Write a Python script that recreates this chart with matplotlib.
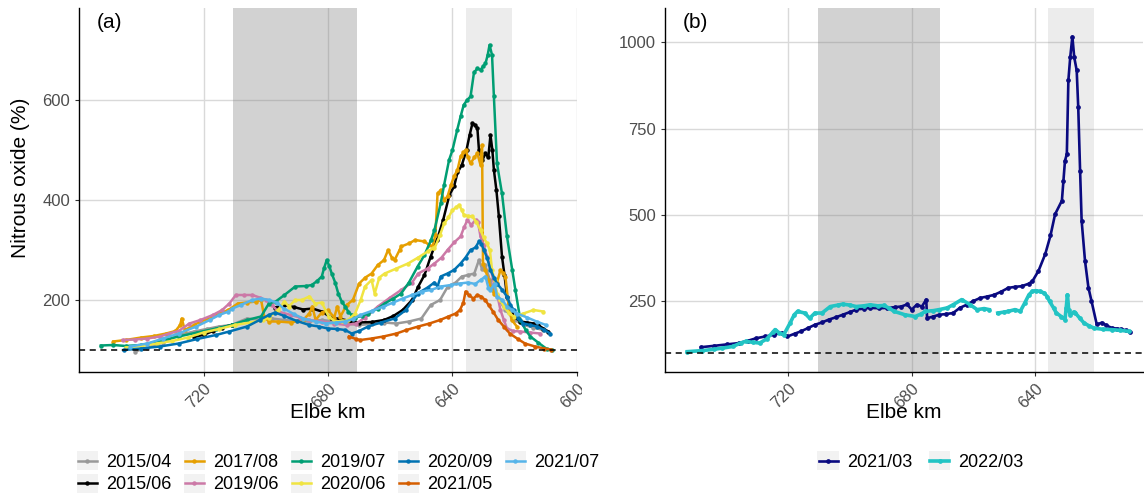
import numpy as np
import matplotlib
matplotlib.use("Agg")
import matplotlib.pyplot as plt
from matplotlib.patches import Rectangle
from matplotlib.legend_handler import HandlerLine2D

plt.rcParams['font.family'] = ['Liberation Sans', 'DejaVu Sans']

nan = np.nan

# ---------------- Panel (a) data ----------------
labels_a = ["2015/04", "2015/06", "2017/08", "2019/06", "2019/07",
            "2020/06", "2020/09", "2021/05", "2021/07"]
colors_a = ["#999999", "#000000", "#E69F00", "#CC79A7", "#009E73",
            "#F0E442", "#0072B2", "#D55E00", "#56B4E9"]

km_2015_04 = [742, 738, 733, 728, 723, 719, 715, 711, 706, 702, 698, 694, 690, 686, 682, 678, 674, 670,
              666, 662, 658, 654, 650, 647, 644, 641.5, 639, 637, 635, 633, 631.5, 630.5, 629.5, 628,
              626, 623, 620, 617, 614, 611]
val_2015_04 = [97, 105, 115, 130, 137, 142, 147, 150, 163, 160, 163, 160, 158, 157, 160, 157, 153, 150,
               152, 155, 153, 157, 163, 190, 200, 227, 235, 247, 250, 253, 280, 262, 270, 240,
               210, 180, 160, 150, 145, 140]

km_2015_06 = [723, 720, 717, 714, 711, nan,
              697, 694, 691, 688, 685, 682, 679, 676, 673, 670, 666, 662, 659, 656, 653, 651, 649, 647,
              645, 643, 641, 639.5, 638.4, 637, 635.5, 634.5, 633.6, 632.7, 632, 631.5, 630.4, 629.4,
              628.5, 627.8, 627.2, 626.7, 625.9, 625.1, 624.1, 623.3, 622.5, 621.5, 620.3, 618.2, 616,
              614, 612.5, 610.8, 609.2]
val_2015_06 = [127, 130, 138, 145, 150, nan,
               185, 190, 186, 181, 183, 177, 165, 162, 158, 155, 156, 160, 168, 180, 200, 227, 250, 287,
               320, 360, 410, 427, 455, 470, 500, 530, 553, 550, 543, 500, 480, 493,
               485, 530, 500, 460, 420, 367, 287, 250, 207, 185, 167, 157, 155,
               153, 150, 143, 137]

km_2017_08 = [749, 745, 740, 736, 732, 729, 727.5, 727, 726, 723, 721, 718, 715, 712, 709, 706, 703,
              701.5, 700.5, 699, 696, 692, 688, 686, 685, 684, 682, 680, 678, 677, 676, 674, 672, 670,
              668, 666, 664, 662, 660.7, 659.5, 658.6, 657, 656.5, 654, 652, 649, 647.5, 646.4, 645.5,
              644.8, 643.8, 642.7, 641.6, 640.5, 639.5, 638.4, 637.4, 636.5, 635.8, 635, 634.2, 633,
              632, 631, 630.5, 630.2, 629.4, 628.5, 627.8, 626.7, 625.7, 624.6, 623.8, 623, 622, 621,
              619.3]
val_2017_08 = [117, 120, 125, 128, 133, 138, 150, 163, 140, 150, 157, 163, 173, 180, 193, 195, 197,
               200, 167, 157, 157, 155, 160, 173, 187, 160, 175, 180, 165, 187, 167, 190, 200, 233,
               245, 253, 270, 280, 300, 285, 280, 300, 307, 313, 320, 317, 310, 307, 330,
               413, 420, 400, 407, 430, 447, 460, 487, 495, 500, 485, 473, 485,
               493, 470, 510, 273, 260, 240, 227, 213, 235, 260, 255, 247, 190, 160,
               147]

km_2019_06 = [746, 742, 738, 734, 731, 728, 724.5, 721, 717, 714, 711.7, 709.6, 707, 704.3, 702, 700,
              698, 696, 692, 689, 686, 682, 678, 674, 671, 668, 664, 660, 656.5, 653, 651, 648, 645.8,
              643.5, 641.6, 639.5, 637.4, 636.3, 635.2, 634, 632.6, 631.8, 631, 630, 628.9, 627.8,
              626.7, 625.6, 624.6, 623.5, 622.5, 620.5, 618.2, 615, 611.9]
val_2019_06 = [120, 121, 123, 127, 133, 138, 153, 160, 170, 180, 193, 210, 210, 210, 205, 200,
               190, 177, 170, 165, 160, 157, 153, 150, 153, 165, 187, 205, 220, 235, 253, 263, 273,
               285, 300, 315, 327, 345, 360, 350, 360, 355, 327, 310, 287, 265,
               233, 210, 180, 160, 143, 138, 137, 135, 133]

km_2019_07 = [753, 749, 745, 740, 734, 728, 722, 716, 711, 706, 701.5, 699, 696.8, 694, 690.5, 687,
              685.2, 683.5, 682, 681.2, 680.4, 679.6, 678.8, 677.7, 676.7, 675.6, 674.5, 673.5, 672.4,
              671.4, 669, 667.1, 664, 661.8, 659, 656.5, 654, 651.2, 649, 646.9, 645.8, 643.8, 642.7,
              641.1, 640, 638.5, 637.4, 636.4, 635.3, 634.2, 633.1, 632, 631, 630.2, 629.4, 628.7,
              628.1, 627.3, 626.7, 625.7, 624.1, 622.5, 620.8, 619.8, 618.2, 616.5, 615, 612.5, 609.7,
              608]
val_2019_07 = [109, 110, 108, 110, 118, 127, 135, 143, 150, 160, 167, 193, 197, 210, 227, 228,
               230, 238, 247, 265, 280, 268, 253, 235, 213, 197, 187, 177, 170,
               165, 168, 173, 183, 193, 203, 213, 235, 267, 290, 320, 340, 393, 430,
               480, 500, 540, 567, 590, 600, 607, 655, 663, 660, 667, 673, 690,
               710, 690, 607, 473, 413, 327, 260, 220, 160, 140, 127, 115, 102,
               100]

km_2020_06 = [745, 740, 735, 730, 725, 720, 715, 710, 705, 701, 699, 696, 694, 692.6, 690.5, 688.4,
              686, 684.1, 682, 679.8, 677.7, 675.5, 673.5, 671.3, 669.5, 668.1, 666, 665, 663.5, 661.8,
              658, 654.3, 651, 648, 646.4, 645.8, 644, 642.7, 641.3, 640, 638.9, 637.9, 637, 636.3,
              635, 633.6, 632.3, 631, 630, 628.9, 628, 627.3, 626.5, 625.7, 624.6, 623.5, 622, 620.3,
              618.7, 617.2, 614, 610.8]
val_2020_06 = [105, 108, 113, 118, 125, 135, 142, 150, 155, 160, 165, 180, 197, 187, 200, 200,
               207, 193, 195, 167, 157, 158, 160, 173, 200, 227, 240, 213, 245, 253,
               263, 273, 285, 297, 303, 303, 330, 353, 365, 380, 385, 390, 380, 370,
               368, 367, 355, 340, 325, 313, 300, 260, 240, 213, 200, 187, 175, 167,
               170, 173, 180, 177]

km_2020_09 = [745.7, 740, 734, 728, 722, 716, 711.7, 706, 702, 699, 697, 694, 690, 686, 683, 680, 677,
              674.5, 672.4, 670, 667.1, 663, 658.6, 655, 651.2, 648, 645.8, 644.8, 643.8, 641.6, 639.5,
              637.4, 635.8, 634.2, 632.6, 631.5, 630.7, 629.9, 628.9, 627.8, 626.7, 625.7, 624, 622.5,
              621.4, 620.3, 618.8, 617.2, 615, 612.9, 610.5, 608.6]
val_2020_09 = [100, 103, 107, 113, 122, 130, 137, 147, 160, 170, 175, 168, 158, 150, 147, 143, 142,
               140, 133, 138, 147, 155, 163, 180, 213, 225, 235, 227, 247, 253, 260,
               273, 285, 300, 305, 317, 312, 300, 285, 260, 245, 233, 220, 207,
               190, 180, 165, 153, 150, 147, 140, 133]

km_2021_05 = [673.3, 671, 669.6, 666, 662.2, 658, 654.8, 651, 647.4, 644, 641.3, 639, 637.6, 636.5,
              635.8, 634.8, 633.3, 632, 630.8, 629.5, 628.4, 627, 625.3, 623.5, 621.6, 619, 616.7,
              613.5, 610.5, 608.5]
val_2021_05 = [127, 122, 120, 123, 127, 133, 140, 147, 153, 160, 167, 173, 180, 195,
               217, 210, 203, 210, 207, 200, 190, 177, 160, 147, 133, 122, 113,
               107, 103, 101]

km_2021_07 = [743.6, 738, 733, 728, 722.3, 718, 714.9, 712, 710.7, 708, 704.3, 701.5, 699, 696.5,
              694.2, 691, 688, 684, 680.6, 677.5, 674.5, 672, 669.6, 666, 662.2, 659, 656, 653, 649.9,
              647, 643.7, 640.5, 637.6, 635, 632.7, 631, 629.4, 628.5, 627.8, 626.5, 625.7, 624, 622.5,
              620.8, 619.3, 616, 613, 610]
val_2021_07 = [107, 113, 123, 133, 147, 160, 170, 177, 183, 190, 200, 203, 200, 195,
               183, 172, 163, 157, 153, 155, 157, 162, 170, 178, 187, 195, 203, 210, 217,
               220, 227, 230, 233, 235, 232, 240, 247, 225, 220, 233, 207, 200, 187,
               180, 173, 165, 157, 150]

series_a = [(km_2015_04, val_2015_04), (km_2015_06, val_2015_06), (km_2017_08, val_2017_08),
            (km_2019_06, val_2019_06), (km_2019_07, val_2019_07), (km_2020_06, val_2020_06),
            (km_2020_09, val_2020_09), (km_2021_05, val_2021_05), (km_2021_07, val_2021_07)]

# ---------------- Panel (b) data ----------------
labels_b = ["2021/03", "2022/03"]
colors_b = ["#0A0A80", "#22C4C4"]

km_2021_03 = [748.3, 744, 740, 736, 733, 730.4, 727.5, 724.8, 722, 720.3, 718, 715.9, 713.5, 711.4,
              709, 706.9, 704.5, 702.4, 700, 698, 695.5, 693.5, 690.5, 687.9, 685.5, 683.4, 681.5, 680,
              678.4, 676.7, 675.3, 675, 673, 671.1, 669, 666.6, 664.4, 662.2, 660, 657.7, 655.5, 653.2,
              651, 648.7, 646.5, 644.3, 642.1, 640.9, 638.9, 636.7, 635, 633.5, 631.3, 630.8, 630.3,
              629.7, 629.2, 628.6, 627.9, 627.3, 626.5, 626, 625.4, 624.9, 623.8, 622.7, 621.7, 620,
              618.4, 617, 615.2, 613.5, 612, 610.5, 609.3]
val_2021_03 = [116, 120, 124, 128, 135, 142, 147, 152, 158, 147, 155, 162, 172, 181,
               188, 196, 203, 210, 218, 225, 228, 230, 229, 230, 232, 234, 240, 225,
               239, 234, 254, 200, 205, 210, 212, 215, 230, 239, 250, 259, 263, 268,
               277, 288, 291, 293, 300, 307, 337, 386, 440, 502, 541, 599, 657,
               676, 890, 957, 1017, 957, 919, 812, 628, 483, 366, 289, 250, 182,
               187, 180, 172, 170, 168, 165, 161]

km_2022_03 = [752.8, 748, 744, 741.6, 738, 735.5, 733.8, 731.5, 729.3, 727, 725, 724.3, 723, 721.5,
              719.5, 718.1, 717, 714.7, 713.1, 711.4, 709.1, 706.4, 704, 702.4, 700, 698, 695.5, 693.5,
              691, 689, 687.5, 685.7, 682.2, 678.9, 677, 675.6, 673, 671.1, 668.5, 666.6, 663.8, 661,
              658.8, 656.5, 654.9, nan, 652.1, 650, 648.7, 646.5, 644.8, 643.3, 642, 640.9, 639.8,
              638.5, 637, 636, 635.3, 634, 633.1, 631.5, 630.3, 629.9, 629.5, 629.1, 628.6, 627.5,
              626.9, 625.5, 624.1, 622.5, 620.8, 618, 615.2, 612.5, 609.6]
val_2022_03 = [103, 106, 110, 113, 118, 128, 133, 130, 128, 140, 160, 167, 158, 152,
               185, 210, 220, 215, 200, 215, 215, 234, 238, 241, 238, 234, 236, 239,
               236, 237, 230, 220, 210, 205, 212, 220, 222, 225, 230, 239, 254, 239,
               225, 228, 225, nan, 215, 218, 220, 225, 220, 245, 268, 278, 280,
               278, 273, 262, 249, 230, 215, 205, 196, 230, 268, 225, 210, 218,
               215, 200, 186, 178, 171, 168, 167, 165, 162]

series_b = [(km_2021_03, val_2021_03), (km_2022_03, val_2022_03)]

xticks = [720, 680, 640, 600]
yticks_a = [200, 400, 600]
yticks_b = [250, 500, 750, 1000]
dark_band = (710.4, 670.8)
light_band = (635.8, 620.8)


class BGHandler(HandlerLine2D):
    def create_artists(self, legend, orig_handle, xdescent, ydescent, width, height, fontsize, trans):
        rect = Rectangle((-xdescent - 1, -ydescent - height * 0.25), width + 2, height * 1.5,
                         facecolor="#F2F2F2", edgecolor="none", transform=trans)
        arts = super().create_artists(legend, orig_handle, xdescent, ydescent, width, height,
                                      fontsize, trans)
        return [rect] + list(arts)


W, H = 1144, 494
fig = plt.figure(figsize=(W / 100, H / 100), dpi=100)
ax_a = fig.add_axes([79 / W, (H - 372) / H, (577 - 79) / W, 364 / H])
ax_b = fig.add_axes([665 / W, (H - 372) / H, (1143 - 665) / W, 364 / H])


def style(ax, ylim, yticks, xlim):
    ax.set_xlim(*xlim)
    ax.set_ylim(*ylim)
    ax.set_xticks([t for t in xticks if min(xlim) <= t <= max(xlim)])
    ax.set_yticks(yticks)
    ax.set_axisbelow(True)
    ax.grid(True, color="#D9D9D9", linewidth=1.0)
    for s in ["top", "right"]:
        ax.spines[s].set_visible(False)
    for s in ["left", "bottom"]:
        ax.spines[s].set_color("black")
        ax.spines[s].set_linewidth(1.0)
    ax.tick_params(axis="both", colors="#333333", length=3, width=0.8, labelsize=12,
                   labelcolor="#4D4D4D")
    for lab in ax.get_xticklabels():
        lab.set_rotation(45)
        lab.set_ha("right")
        lab.set_va("top")
        lab.set_rotation_mode("anchor")
    ax.axvspan(*dark_band, color="grey", alpha=0.35, lw=0, zorder=1)
    ax.axvspan(*light_band, color="grey", alpha=0.15, lw=0, zorder=1)
    ax.axhline(100, color="black", linestyle=(0, (4, 3)), linewidth=1.1, zorder=3)
    ax.set_xlabel("Elbe km", fontsize=15)
    ax.xaxis.set_label_coords(0.5, -0.11)
    ax.xaxis.label.set_va("center")


style(ax_a, (56, 784), yticks_a, (760, 600))
style(ax_b, (44, 1100), yticks_b, (760, 605))

handles_a = []
for (km, v), c, lab in zip(series_a, colors_a, labels_a):
    h, = ax_a.plot(km, v, color=c, linewidth=1.8, marker="o", markersize=2.2, zorder=2, label=lab)
    handles_a.append(h)

handles_b = []
for (km, v), c, lab in zip(series_b, colors_b, labels_b):
    lw = 1.9 if lab == "2021/03" else 2.6
    h, = ax_b.plot(km, v, color=c, linewidth=lw, marker="o", markersize=2.4, zorder=2, label=lab)
    handles_b.append(h)

ax_a.set_ylabel("Nitrous oxide (%)", fontsize=15)
ax_a.yaxis.set_label_coords(-0.118, 0.534)
ax_a.yaxis.label.set_va("center")

ax_a.text(0.036, 0.96, "(a)", transform=ax_a.transAxes, fontsize=15, ha="left", va="center")
ax_b.text(0.038, 0.96, "(b)", transform=ax_b.transAxes, fontsize=15, ha="left", va="center")

leg_a = fig.legend(handles_a, labels_a, loc="upper left", bbox_to_anchor=(78 / W, 1 - 454 / H),
                   ncol=5, frameon=False, fontsize=13, handlelength=1.05, handletextpad=0.5,
                   columnspacing=0.75, labelspacing=0.3, borderpad=0, borderaxespad=0,
                   handler_map={matplotlib.lines.Line2D: BGHandler()})
leg_b = fig.legend(handles_b, labels_b, loc="upper center", bbox_to_anchor=(921 / W, 1 - 454 / H),
                   ncol=2, frameon=False, fontsize=13, handlelength=1.05, handletextpad=0.5,
                   columnspacing=1.0, borderpad=0, borderaxespad=0,
                   handler_map={matplotlib.lines.Line2D: BGHandler()})

# the reference image is cut just right of panel (a), clipping its last tick label
cover = Rectangle((582 / W, (H - 402) / H), 70 / W, 30 / H, transform=fig.transFigure,
                  facecolor="white", edgecolor="none", zorder=10)
fig.add_artist(cover)

fig.savefig("out.png", dpi=100)
